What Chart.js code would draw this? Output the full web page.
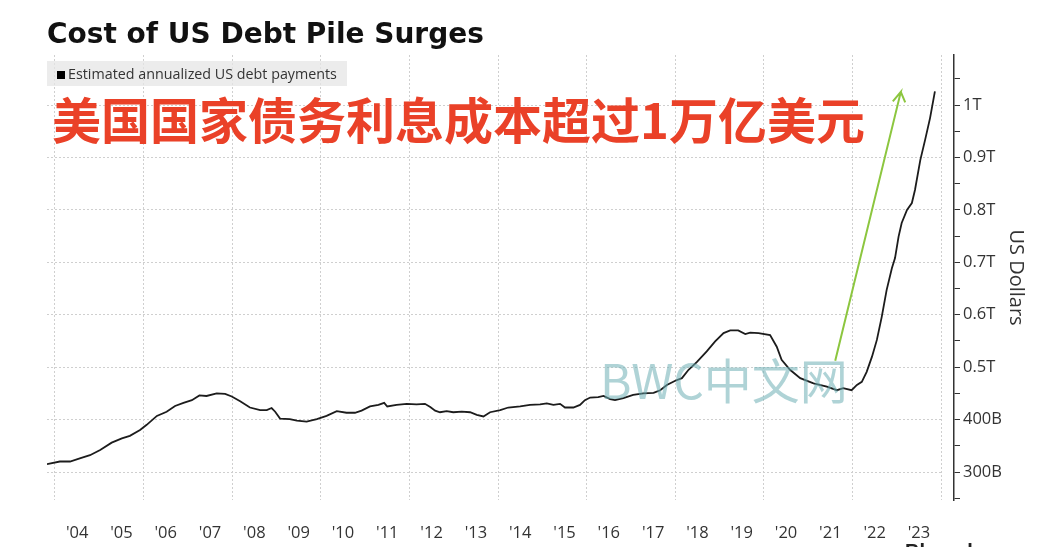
<!DOCTYPE html>
<html>
<head>
<meta charset="utf-8">
<script src="https://cdn.jsdelivr.net/npm/chart.js@4/dist/chart.umd.min.js"></script>
<style>
  html, body { margin:0; padding:0; background:#fff; overflow:hidden; }
  #wrap { position:relative; width:1042px; height:547px; overflow:hidden; }
  #debtChart { position:absolute; left:0; top:0; }
  #title { position:absolute; left:47px; top:20px; font:bold 28px "DejaVu Sans", sans-serif; color:#111; line-height:28px; white-space:nowrap; }
  #legend { position:absolute; left:47px; top:61px; width:300px; height:25px; background:rgba(230,230,230,0.75);
            font:14.3px "Open Sans", sans-serif; color:#333; line-height:25px; white-space:nowrap; }
  #legend span.box { display:inline-block; width:8px; height:8px; background:#000; margin:0 3px 0 10px; vertical-align:0px; }
  #headline { position:absolute; left:52px; top:93px; font:bold 49px "Noto Sans CJK SC", sans-serif; color:#ea4128; line-height:49px; white-space:nowrap; }
  #mark { position:absolute; left:600px; top:354px; font:48px "Noto Sans CJK SC", sans-serif; color:rgba(110,175,180,0.55); line-height:48px; white-space:nowrap; }
  #source { position:absolute; left:905px; top:540px; font:bold 20px "Liberation Sans", Arial, sans-serif; color:#222; white-space:nowrap; }
</style>
</head>
<body>
<div id="wrap">
  <canvas id="debtChart" width="1042" height="547"></canvas>
  <div id="title">Cost of US Debt Pile Surges</div>
  <div id="legend"><span class="box"></span>Estimated annualized US debt payments</div>
  <div id="headline">美国国家债务利息成本超过1万亿美元</div>
  <div id="mark">BWC中文网</div>
  <div id="source">Bloomberg</div>
</div>
<script>
// data (decimal year, billions of US dollars)
const dates = [2003.82, 2004.11, 2004.34, 2004.56, 2004.79, 2005.02, 2005.28, 2005.51, 2005.69, 2005.92,
  2006.07, 2006.30, 2006.52, 2006.71, 2006.90, 2007.09, 2007.26, 2007.42, 2007.65, 2007.84,
  2007.99, 2008.18, 2008.40, 2008.63, 2008.78, 2008.89, 2008.97, 2009.08, 2009.30, 2009.46,
  2009.68, 2009.91, 2010.13, 2010.36, 2010.58, 2010.77, 2010.92, 2011.11, 2011.30, 2011.43,
  2011.50, 2011.71, 2011.94, 2012.16, 2012.35, 2012.47, 2012.58, 2012.69, 2012.84, 2012.99,
  2013.18, 2013.37, 2013.52, 2013.67, 2013.82, 2014.05, 2014.23, 2014.50, 2014.72, 2014.95,
  2015.10, 2015.25, 2015.40, 2015.51, 2015.70, 2015.85, 2015.96, 2016.08, 2016.26, 2016.38,
  2016.53, 2016.64, 2016.83, 2017.05, 2017.28, 2017.51, 2017.66, 2017.81, 2018.00, 2018.15,
  2018.30, 2018.49, 2018.71, 2018.90, 2019.09, 2019.24, 2019.42, 2019.58, 2019.69, 2019.88,
  2020.14, 2020.29, 2020.40, 2020.59, 2020.82, 2021.12, 2021.42, 2021.65, 2021.79, 2021.98,
  2022.10, 2022.21, 2022.32, 2022.44, 2022.55, 2022.66, 2022.77, 2022.89, 2022.96, 2023.04,
  2023.11, 2023.23, 2023.34, 2023.41, 2023.53, 2023.64, 2023.75, 2023.86];
const payments = [315, 320, 320, 326, 332, 342, 356, 364, 369, 380,
  390, 407, 415, 426, 432, 437, 446, 445, 450, 449,
  444, 435, 423, 418, 418, 422, 415, 402, 401, 398,
  396, 401, 407, 416, 413, 413, 417, 425, 428, 432,
  425, 428, 430, 429, 430, 424, 417, 414, 416, 414,
  415, 414, 409, 406, 414, 418, 423, 425, 428, 429,
  431, 428, 430, 423, 423, 428, 437, 442, 443, 445,
  439, 437, 441, 447, 450, 451, 456, 466, 474, 479,
  495, 510, 530, 549, 565, 570, 570, 563, 566, 565,
  561, 539, 514, 495, 479, 469, 463, 456, 460, 456,
  466, 472, 491, 520, 552, 596, 647, 689, 708, 749,
  775, 800, 813, 838, 895, 934, 975, 1026];

// green arrow: start, tip, left wing, tip, right wing
const arrowX = [2021.61, 2023.09, 2022.91, 2023.09, 2023.19];
const arrowY = [512, 1025, 1007, 1025, 1005];

const yearLabels = [2004, 2005, 2006, 2007, 2008, 2009, 2010, 2011, 2012, 2013,
  2014, 2015, 2016, 2017, 2018, 2019, 2020, 2021, 2022, 2023];
const valueTicks = [300, 400, 500, 600, 700, 800, 900, 1000];

const xMin = 2003.82, xMax = 2024.02;
const yMin = 246.6, yMax = 1095.4;

// ticks at each year start (grid on even years) and mid-year (labels)
const xTicks = yearLabels.flatMap(y => [y, y + 0.5]).concat([yearLabels[yearLabels.length - 1] + 1]);
// labelled ticks plus half steps for the small marks on the axis
const yTicks = [valueTicks[0] - 50].concat(valueTicks.flatMap(v => [v, v + 50]));

function fmtValue(v) {
  if (v % 100 !== 0) return '';
  return v < 500 ? v + 'B' : (v / 1000) + 'T';
}

const tickFont = {family: 'Open Sans', size: 16.5};

new Chart(document.getElementById('debtChart'), {
  type: 'line',
  data: {
    datasets: [
      {
        label: 'Estimated annualized US debt payments',
        data: dates.map((d, i) => ({x: d, y: payments[i]})),
        borderColor: '#1c1c1c', borderWidth: 1.8, pointRadius: 0, tension: 0,
        yAxisID: 'y'
      },
      {
        label: 'arrow',
        data: arrowX.map((d, i) => ({x: d, y: arrowY[i]})),
        borderColor: '#8cc63f', borderWidth: 2, pointRadius: 0, tension: 0,
        yAxisID: 'y'
      }
    ]
  },
  options: {
    responsive: false,
    animation: false,
    layout: {padding: {left: 47, top: 55, right: 0, bottom: 0}},
    plugins: {legend: {display: false}, tooltip: {enabled: false}},
    scales: {
      x: {
        type: 'linear', min: xMin, max: xMax,
        afterBuildTicks: s => { s.ticks = xTicks.map(v => ({value: v})); },
        afterFit: s => { s.height = 47; },
        ticks: {
          autoSkip: false, maxRotation: 0, padding: 23, color: '#333', font: tickFont,
          callback: v => (v % 1 ? "'" + String(Math.floor(v)).slice(2) : '')
        },
        grid: {
          drawTicks: false, lineWidth: 1,
          color: c => (c.tick && c.tick.value % 2 === 0) ? '#cfcfcf' : 'rgba(0,0,0,0)'
        },
        border: {display: false, dash: [2, 2]}
      },
      y: {
        type: 'linear', position: 'right', min: yMin, max: yMax, weight: 0,
        afterBuildTicks: s => { s.ticks = valueTicks.map(v => ({value: v})); },
        afterFit: s => { s.width = 12; },
        ticks: {display: false},
        grid: {color: '#cfcfcf', drawTicks: false, lineWidth: 1},
        border: {display: false, dash: [2, 2]}
      },
      y2: {
        type: 'linear', position: 'right', min: yMin, max: yMax, weight: 1,
        afterBuildTicks: s => { s.ticks = yTicks.map(v => ({value: v})); },
        afterFit: s => { s.width = 88; },
        ticks: {autoSkip: false, padding: 3, color: '#333', font: tickFont, callback: v => fmtValue(v)},
        grid: {drawOnChartArea: false, color: '#333', tickLength: 6, lineWidth: 1},
        border: {display: true, color: '#333', width: 1.5},
        title: {display: true, text: 'US Dollars', color: '#333',
          font: {family: 'Open Sans', size: 20}, padding: {top: 14, bottom: 0}}
      }
    }
  }
});
</script>
</body>
</html>
